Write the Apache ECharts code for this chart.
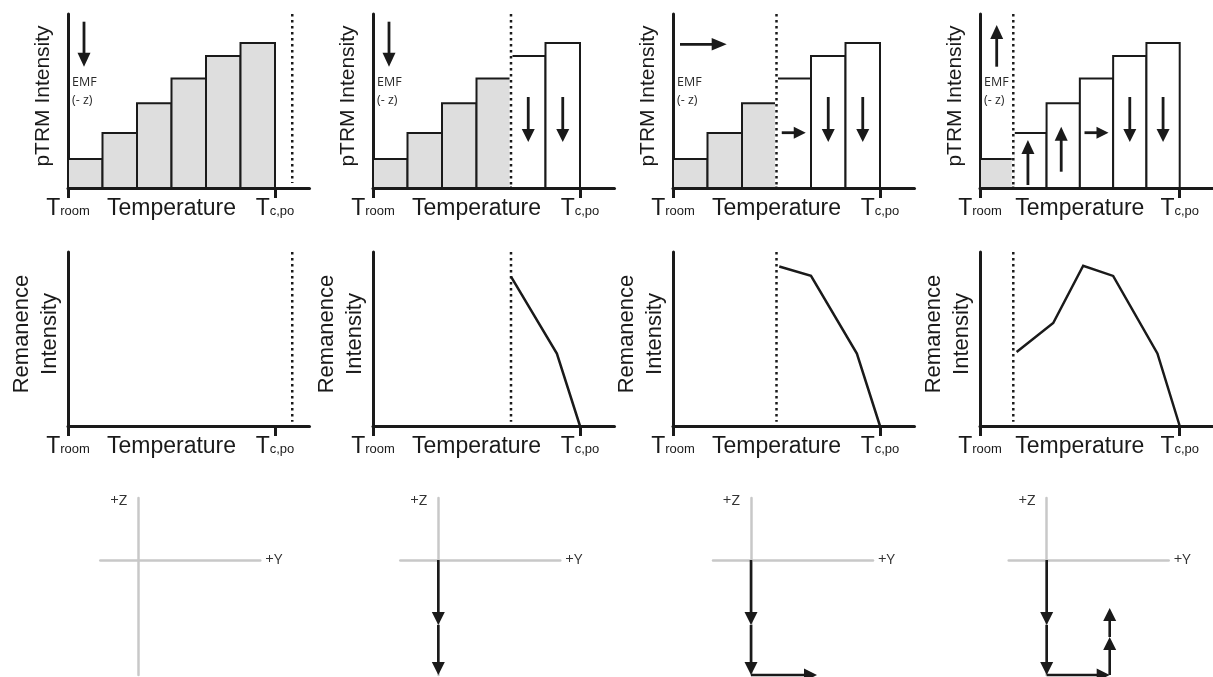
<!DOCTYPE html>
<html><head><meta charset="utf-8">
<script src="https://cdn.jsdelivr.net/npm/echarts@6/dist/echarts.min.js"></script>
<style>html,body{margin:0;padding:0;background:#fff}#c{width:1213px;height:677px}</style>
</head><body><div id="c"></div>
<script>
// ================= DATA =================
const pTRM = [2.0, 3.8, 5.85, 7.55, 9.1, 10.0];        // pTRM bar heights, same in every panel
const boundaries = [6.5, 4, 3, 1];                      // dotted (unblocking) line per panel, in temperature steps
const emfDir = ['down', 'down', 'right', 'up'];         // EMF direction per panel
const barArrows = [
  [null, null, null, null, null, null],
  [null, null, null, null, 'down', 'down'],
  [null, null, null, 'right', 'down', 'down'],
  [null, 'up', 'up', 'right', 'down', 'down']
];
const remanence = [
  [],
  [[4, 10.3], [5.33, 5.0], [6, 0]],
  [[3.08, 11.0], [4, 10.35], [5.33, 5.0], [6, 0]],
  [[1.1, 5.1], [2.2, 7.1], [3.1, 11.05], [4, 10.35], [5.33, 5.0], [6, 0]]
];
const vectors = [                                        // [y1, z1, y2, z2]
  [],
  [[0, 0, 0, -65], [0, -65, 0, -115]],
  [[0, 0, 0, -65], [0, -65, 0, -115], [0, -115, 66, -115]],
  [[0, 0, 0, -65], [0, -65, 0, -115], [0, -115, 63, -115], [63, -115, 63, -77], [63, -77, 63, -48]]
];
const tempTickValues = [0, 6];                          // T_room, T_c,po
const tempLabelValues = [0, 3, 6];
const tempLabels = { 0: ['T', 'room'], 3: ['Temperature', ''], 6: ['T', 'c,po'] };
const yNameTop = 'pTRM Intensity';
const yNameMid = 'Remanence\nIntensity';
const emfText = ['EMF', '(- z)'];
const vecNames = ['+Y', '+Z'];

// ================= LAYOUT / STYLE =================
const INK = '#1a1a1a', GRAY = '#dedede', AXGRAY = '#c8c8c8';
const L = {
  colX: [68, 373, 673, 980], unitW: 34.5, topRowTop: 14, midRowTop: 252, rowH: 174,
  vecOrigin: [138.3, 438.3, 751, 1046.7], vecTop: 498
};
const UP_LAYOUT = { 1: [171, 126], 2: [157.7, 112.7] };
const DIRS = ['down', 'right', 'up'];

function arrow(x1, y1, x2, y2, o) {
  const dx = x2 - x1, dy = y2 - y1, len = Math.hypot(dx, dy), ux = dx / len, uy = dy / len;
  const bx = x2 - ux * o.hl, by = y2 - uy * o.hl, hw = o.hw / 2;
  return [
    { type: 'line', shape: { x1: x1, y1: y1, x2: bx + ux * 1, y2: by + uy * 1 }, style: { stroke: o.c || INK, lineWidth: o.lw } },
    { type: 'polygon', shape: { points: [[x2, y2], [bx - uy * hw, by + ux * hw], [bx + uy * hw, by - ux * hw]] }, style: { fill: o.c || INK } }
  ];
}

const grids = [], xAxes = [], yAxes = [], series = [];
const labelRich = {
  t: { fontSize: 23, color: INK, fontFamily: 'Liberation Sans' },
  s: { fontSize: 13, color: INK, fontFamily: 'Liberation Sans', verticalAlign: 'bottom', padding: [0, 0, 2, 0] }
};
function tempX(gi) {
  return {
    gridIndex: gi, type: 'value', min: 0, max: 7,
    axisLine: { show: true, onZero: false, lineStyle: { color: INK, width: 3 } },
    axisTick: { show: true, customValues: tempTickValues, length: 10, lineStyle: { color: INK, width: 3 } },
    axisLabel: {
      show: true, customValues: tempLabelValues, margin: 9,
      formatter: v => { const t = tempLabels[v]; return t ? '{t|' + t[0] + '}' + (t[1] ? '{s|' + t[1] + '}' : '') : ''; },
      rich: labelRich
    },
    splitLine: { show: false }
  };
}
function tempY(gi, name, gap, fs, lh) {
  return {
    gridIndex: gi, type: 'value', min: 0, max: 12,
    axisLine: { show: true, onZero: false, lineStyle: { color: INK, width: 3 } },
    axisTick: { show: false }, axisLabel: { show: false }, splitLine: { show: false },
    name: name, nameLocation: 'middle', nameGap: gap,
    nameTextStyle: { fontSize: fs, lineHeight: lh, color: INK, fontFamily: 'Liberation Sans', padding: [0, 0, 0, 10] }
  };
}

// ---- top row: pTRM bars ----
for (let p = 0; p < 4; p++) {
  const gi = p;
  grids.push({ left: L.colX[p], top: L.topRowTop, width: 7 * L.unitW, height: L.rowH });
  xAxes.push(tempX(gi));
  yAxes.push(tempY(gi, yNameTop, 13, 21, 24));
  const b = boundaries[p];
  const dotBottom = Number.isInteger(b) ? 0.1 : 0.35;
  series.push({
    type: 'custom', xAxisIndex: gi, yAxisIndex: gi, z: 2, encode: { x: 0, y: 1 },
    data: pTRM.map((h, i) => [i, h]),
    renderItem: (params, api) => {
      const i = api.value(0), h = api.value(1);
      const a = api.coord([i, 0]), c = api.coord([i + 1, h]);
      return { type: 'rect', shape: { x: a[0], y: c[1], width: c[0] - a[0], height: a[1] - c[1] },
        style: { fill: (i + 1 <= b) ? GRAY : '#ffffff', stroke: INK, lineWidth: 2 } };
    }
  });
  series.push({ type: 'line', xAxisIndex: gi, yAxisIndex: gi, z: 3, symbol: 'none', silent: true,
    data: [[b, 12], [b, dotBottom]], lineStyle: { color: '#ffffff', width: 3 } });
  series.push({ type: 'line', xAxisIndex: gi, yAxisIndex: gi, z: 4, symbol: 'none', silent: true,
    data: [[b, 12], [b, dotBottom]], lineStyle: { color: INK, width: 2.5, type: [2.5, 3.5] } });
  const arr = barArrows[p].map((d, i) => d ? [i, pTRM[i], DIRS.indexOf(d)] : null).filter(Boolean);
  series.push({
    type: 'custom', xAxisIndex: gi, yAxisIndex: gi, z: 5, encode: { x: 0, y: 1 }, data: arr,
    renderItem: (params, api) => {
      const i = api.value(0), dir = DIRS[api.value(2)];
      const cx = (api.coord([i, 0])[0] + api.coord([i + 1, 0])[0]) / 2, top = api.coord([0, 12])[1];
      let ch;
      if (dir === 'down') ch = arrow(cx, top + 83, cx, top + 128, { hl: 13, hw: 13, lw: 2.8 });
      else if (dir === 'right') ch = arrow(cx - 12, top + 118.7, cx + 12, top + 118.7, { hl: 12, hw: 12, lw: 2.8 });
      else { const u = UP_LAYOUT[i]; ch = arrow(cx - 2, top + u[0], cx - 2, top + u[1], { hl: 14, hw: 13, lw: 2.8 }); }
      return { type: 'group', children: ch };
    }
  });
  series.push({
    type: 'custom', xAxisIndex: gi, yAxisIndex: gi, z: 5, encode: { x: 0, y: 1 },
    data: [[0, 12, DIRS.indexOf(emfDir[p])]],
    renderItem: (params, api) => {
      const o = api.coord([0, 12]), lx = o[0], ty = o[1], dir = DIRS[api.value(2)];
      let ch;
      if (dir === 'down') ch = arrow(lx + 16, ty + 7.7, lx + 16, ty + 52.7, { hl: 14, hw: 13, lw: 2.8 });
      else if (dir === 'right') ch = arrow(lx + 7, ty + 30.3, lx + 53.7, ty + 30.3, { hl: 15, hw: 12.5, lw: 2.8 });
      else ch = arrow(lx + 16.7, ty + 52.7, lx + 16.7, ty + 11, { hl: 14, hw: 13, lw: 2.8 });
      ch.push({ type: 'text', style: { text: emfText[0], x: lx + 4, y: ty + 68.8, align: 'left', verticalAlign: 'middle', fontSize: 12.5, fontFamily: 'Open Sans', fill: '#2a2a2a' } });
      ch.push({ type: 'text', style: { text: emfText[1], x: lx + 4, y: ty + 86, align: 'left', verticalAlign: 'middle', fontSize: 12.5, fontFamily: 'Open Sans', fill: '#2a2a2a' } });
      return { type: 'group', children: ch };
    }
  });
}

// ---- middle row: remanence ----
for (let p = 0; p < 4; p++) {
  const gi = 4 + p;
  grids.push({ left: L.colX[p], top: L.midRowTop, width: 7 * L.unitW, height: L.rowH });
  xAxes.push(tempX(gi));
  yAxes.push(tempY(gi, yNameMid, 4, 22, 28));
  const b = boundaries[p];
  series.push({ type: 'line', xAxisIndex: gi, yAxisIndex: gi, z: 3, symbol: 'none', silent: true,
    data: [[b, 12], [b, 0.3]], lineStyle: { color: INK, width: 2.5, type: [2.5, 3.5] } });
  series.push({ type: 'line', xAxisIndex: gi, yAxisIndex: gi, z: 4, symbol: 'none', silent: true,
    data: remanence[p], lineStyle: { color: INK, width: 2.5, join: 'miter' } });
}

// ---- bottom row: vector diagrams ----
for (let p = 0; p < 4; p++) {
  const gi = 8 + p;
  grids.push({ left: L.vecOrigin[p] - 38, top: L.vecTop, width: 160, height: 177 });
  xAxes.push({ gridIndex: gi, type: 'value', min: -38, max: 122,
    axisLine: { show: true, onZero: true, lineStyle: { color: AXGRAY, width: 2.5 } },
    axisTick: { show: false }, axisLabel: { show: false }, splitLine: { show: false },
    name: vecNames[0], nameLocation: 'end', nameGap: 5,
    nameTextStyle: { fontFamily: 'Open Sans', fontSize: 15, color: '#333', verticalAlign: 'middle' } });
  yAxes.push({ gridIndex: gi, type: 'value', min: -115, max: 62,
    axisLine: { show: true, onZero: true, lineStyle: { color: AXGRAY, width: 2.5 } },
    axisTick: { show: false }, axisLabel: { show: false }, splitLine: { show: false },
    name: vecNames[1], nameLocation: 'end', nameGap: 5,
    nameTextStyle: { fontFamily: 'Open Sans', fontSize: 15, color: '#333', align: 'right', verticalAlign: 'top', padding: [0, 11, 0, 0] } });
  series.push({
    type: 'custom', xAxisIndex: gi, yAxisIndex: gi, z: 5, encode: { x: [0, 2], y: [1, 3] }, data: vectors[p],
    renderItem: (params, api) => {
      const a = api.coord([api.value(0), api.value(1)]), c = api.coord([api.value(2), api.value(3)]);
      return { type: 'group', children: arrow(a[0], a[1], c[0], c[1], { hl: 13, hw: 13, lw: 2.6 }) };
    }
  });
}

const chart = echarts.init(document.getElementById('c'));
chart.setOption({
  animation: false,
  backgroundColor: '#ffffff',
  textStyle: { fontFamily: 'Liberation Sans' },
  grid: grids, xAxis: xAxes, yAxis: yAxes, series: series
});
</script>
</body></html>
